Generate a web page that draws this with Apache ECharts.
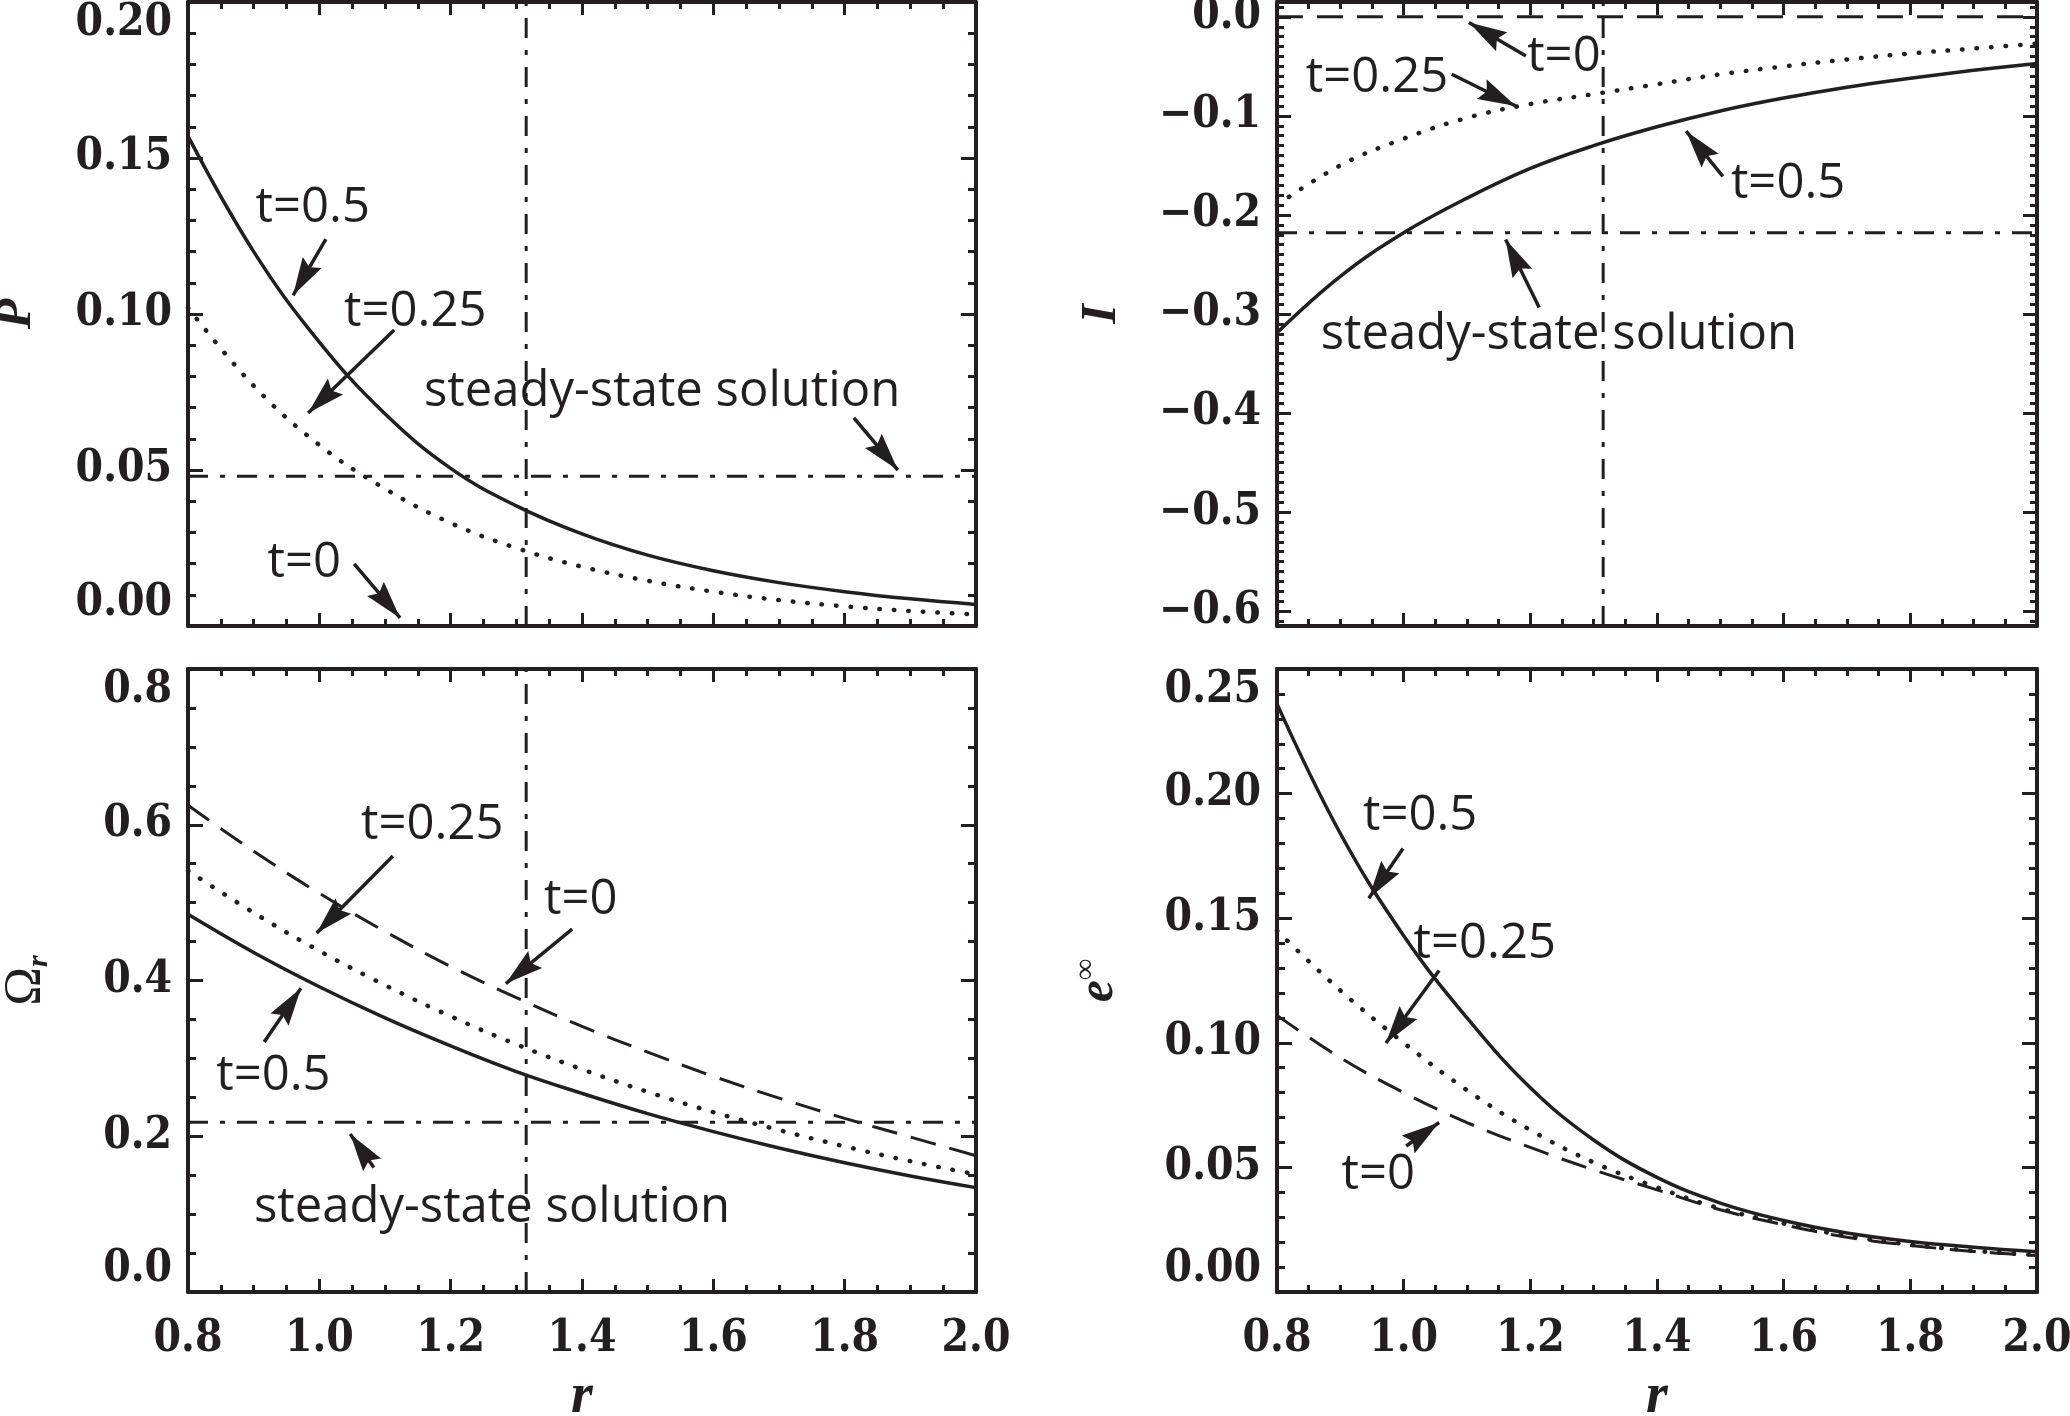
<!DOCTYPE html>
<html>
<head>
<meta charset="utf-8">
<script src="https://cdn.jsdelivr.net/npm/echarts@6/dist/echarts.min.js"></script>
<style>
    html, body {margin: 0; padding: 0; background: #fff;}
    #chart {width: 2070px; height: 1416px;}
</style>
</head>
<body>
<div id="chart"></div>
<script>
// r samples shared by every panel
var rValues = [0.8, 0.9, 1.0, 1.1, 1.2, 1.3, 1.4, 1.5, 1.6, 1.7, 1.8, 1.9, 2.0];
var rMark = 1.315; // vertical dash-dot line

// P
var pT05 = [0.157, 0.120, 0.091, 0.068, 0.0505, 0.0385, 0.0295, 0.0227, 0.0177, 0.0139, 0.011, 0.0087, 0.0069];
var pT025 = [0.102, 0.077, 0.058, 0.044, 0.033, 0.025, 0.019, 0.0145, 0.011, 0.0083, 0.0063, 0.0048, 0.0037];
var pT0 = [0, 0, 0, 0, 0, 0, 0, 0, 0, 0, 0, 0, 0];
var pSteady = 0.048;

// I
var iT05 = [-0.319, -0.262, -0.218, -0.183, -0.153, -0.130, -0.111, -0.095, -0.082, -0.071, -0.062, -0.054, -0.047];
var iT025 = [-0.190, -0.150, -0.123, -0.102, -0.088, -0.078, -0.068, -0.058, -0.050, -0.043, -0.037, -0.032, -0.027];
var iT0 = [0, 0, 0, 0, 0, 0, 0, 0, 0, 0, 0, 0, 0];
var iSteady = -0.218;

// Omega_r
var omT05 = [0.485, 0.436, 0.392, 0.352, 0.316, 0.283, 0.255, 0.229, 0.206, 0.185, 0.166, 0.149, 0.134];
var omT025 = [0.541, 0.487, 0.438, 0.394, 0.354, 0.318, 0.286, 0.257, 0.231, 0.208, 0.187, 0.168, 0.151];
var omT0 = [0.625, 0.566, 0.512, 0.463, 0.418, 0.378, 0.341, 0.308, 0.277, 0.249, 0.223, 0.199, 0.175];
var omSteady = 0.218;

// e_infinity
var eT05 = [0.236, 0.184, 0.143, 0.110, 0.082, 0.061, 0.046, 0.0357, 0.0287, 0.0237, 0.0203, 0.018, 0.0162];
var eT025 = [0.145, 0.121, 0.100, 0.081, 0.065, 0.052, 0.042, 0.0335, 0.0275, 0.0225, 0.019, 0.0165, 0.0148];
var eT0 = [0.111, 0.094, 0.080, 0.068, 0.058, 0.049, 0.041, 0.033, 0.027, 0.022, 0.0187, 0.0163, 0.0146];

// tick labels of the I panel (range does not start on a tick)
var iTicks = [-0.6, -0.5, -0.4, -0.3, -0.2, -0.1, 0.0];

// annotations: [text, r, value] and arrows [r0, v0, r1, v1] (tail -> head)
var pNotes = [['t=0.5', 0.99, 0.134], ['t=0.25', 1.146, 0.1006], ['t=0', 0.977, 0.0202], ['steady-state solution', 1.522, 0.075]];
var pArrows = [[1.01, 0.124, 0.96, 0.106], [1.114, 0.0949, 0.983, 0.0683], [1.053, 0.0199, 1.123, 0.0026], [1.814, 0.0667, 1.881, 0.050]];
var iNotes = [['t=0', 1.253, -0.0406], ['t=0.25', 0.958, -0.0619], ['t=0.5', 1.607, -0.169], ['steady-state solution', 1.245, -0.321]];
var iArrows = [[1.193, -0.0396, 1.103, -0.0058], [1.076, -0.058, 1.177, -0.090], [1.504, -0.161, 1.446, -0.1154], [1.214, -0.2934, 1.161, -0.2247]];
var omNotes = [['t=0.25', 1.172, 0.599], ['t=0', 1.398, 0.503], ['t=0.5', 0.93, 0.277], ['steady-state solution', 1.263, 0.108]];
var omArrows = [[1.112, 0.56, 0.996, 0.461], [1.385, 0.466, 1.284, 0.396], [0.916, 0.321, 0.972, 0.390], [1.083, 0.16, 1.047, 0.203]];
var eNotes = [['t=0.5', 1.026, 0.191], ['t=0.25', 1.128, 0.1396], ['t=0', 0.96, 0.047]];
var eArrows = [[0.999, 0.178, 0.945, 0.158], [1.056, 0.129, 0.972, 0.0999], [1.004, 0.0586, 1.056, 0.068]];

var ink = '#231f20';
var tickFont = "'DejaVu Serif Condensed', 'DejaVu Serif', serif";
var textFont = "'Open Sans', 'Noto Sans', sans-serif";
var nameFont = "'Liberation Serif', 'DejaVu Serif', serif";
// narrow filled head, tip pointing up in symbol space
var arrowHead = 'path://M6,0 L12,34 L6,29 L0,34 Z';

var solid = function () { return {color: ink, width: 3.5, type: 'solid'}; };
var dotted = function () { return {color: ink, width: 4.5, type: [0.5, 14], cap: 'round'}; };
var dashed = function () { return {color: ink, width: 3, type: [26, 14]}; };
var dashDot = function () { return {color: ink, width: 3, type: [20, 12, 5, 12]}; };

var grids = [
    {left: 188, top: 2, width: 788, height: 624},
    {left: 1277, top: 2, width: 760, height: 624},
    {left: 188, top: 669, width: 788, height: 623},
    {left: 1277, top: 669, width: 760, height: 623}
];

function tickLabel(fmt, extra) {
    var o = {
        show: true, margin: 16, fontSize: 44, fontWeight: 'bold', fontFamily: tickFont, color: ink,
        showMinLabel: true, showMaxLabel: true, formatter: fmt
    };
    for (var k in extra) o[k] = extra[k];
    return o;
}

function xAxisPair(gi, withLabels) {
    var make = function (pos) {
        var ax = {
            type: 'value', gridIndex: gi, position: pos, min: 0.8, max: 2.0, interval: 0.2,
            splitLine: {show: false},
            axisLine: {show: true, onZero: false, lineStyle: {color: ink, width: 4}},
            axisTick: {show: true, inside: true, length: 13, lineStyle: {color: ink, width: 3}},
            minorTick: {show: true, splitNumber: 4, length: 7, lineStyle: {color: ink, width: 3}},
            axisLabel: {show: false}
        };
        if (pos === 'bottom' && withLabels) {
            ax.axisLabel = tickLabel(function (v) { return v.toFixed(1); }, {margin: 26});
            ax.name = 'r';
            ax.nameLocation = 'middle';
            ax.nameGap = 78;
            ax.nameTextStyle = {fontFamily: nameFont, fontStyle: 'italic', fontWeight: 'bold', fontSize: 56, color: ink};
        }
        return ax;
    };
    return [make('bottom'), make('top')];
}

function yAxisPair(gi, min, max, interval, split, digits, name) {
    var make = function (pos) {
        var ax = {
            type: 'value', gridIndex: gi, position: pos, min: min, max: max, interval: interval,
            splitLine: {show: false},
            axisLine: {show: true, onZero: false, lineStyle: {color: ink, width: 4}},
            axisTick: {show: true, inside: true, length: 15, lineStyle: {color: ink, width: 3}},
            minorTick: {show: true, splitNumber: split, length: 8, lineStyle: {color: ink, width: 3}},
            axisLabel: {show: false}
        };
        if (pos === 'left') {
            ax.axisLabel = tickLabel(function (v) { return v.toFixed(digits); },
                {verticalAlignMinLabel: 'bottom', verticalAlignMaxLabel: 'top'});
            ax.name = name.text;
            ax.nameLocation = 'middle';
            ax.nameRotate = 90;
            ax.nameGap = name.gap;
            ax.nameTextStyle = name.style;
        }
        return ax;
    };
    return [make('left'), make('right')];
}

// I panel: axis range is off-tick, so ticks are listed explicitly
var iMin = -0.615, iMax = 0.015;
var iMinor = [];
for (var m = -61; m <= 1; m++) {
    if (m % 10 !== 0) iMinor.push(m / 100);
}
function iAxis(pos, major) {
    var ax = {
        type: 'value', gridIndex: 1, position: pos, offset: 0, min: iMin, max: iMax,
        splitLine: {show: false},
        axisLine: {show: major, onZero: false, lineStyle: {color: ink, width: 4}},
        axisTick: {show: true, inside: true, length: major ? 14 : 7,
            customValues: major ? iTicks : iMinor, lineStyle: {color: ink, width: 3}},
        minorTick: {show: false},
        axisLabel: {show: false}
    };
    if (major && pos === 'left') {
        ax.axisLabel = tickLabel(function (v) {
            return (v < -1e-9 ? '\u2212' : '') + Math.abs(v).toFixed(1);
        }, {customValues: iTicks});
        ax.name = 'I';
        ax.nameLocation = 'middle';
        ax.nameRotate = 90;
        ax.nameGap = 150;
        ax.nameTextStyle = {fontFamily: nameFont, fontStyle: 'italic', fontWeight: 'bold', fontSize: 50, color: ink};
    }
    return ax;
}

var xAxes = [].concat(xAxisPair(0, false), xAxisPair(1, false), xAxisPair(2, true), xAxisPair(3, true));
var yAxes = [].concat(
    yAxisPair(0, 0, 0.2, 0.05, 5, 2, {text: 'P', gap: 146,
        style: {fontFamily: nameFont, fontStyle: 'italic', fontWeight: 'bold', fontSize: 50, color: ink}}),
    [iAxis('left', true), iAxis('right', true), iAxis('left', false), iAxis('right', false)],
    yAxisPair(2, 0, 0.8, 0.2, 4, 1, {text: '{a|\u03a9}{b|r}', gap: 134,
        style: {color: ink, rich: {
            a: {fontFamily: nameFont, fontSize: 52, color: ink, lineHeight: 56},
            b: {fontFamily: nameFont, fontStyle: 'italic', fontWeight: 'bold', fontSize: 30, color: ink, verticalAlign: 'bottom', lineHeight: 56}
        }}}),
    yAxisPair(3, 0, 0.25, 0.05, 5, 2, {text: '{a|e}{b|\u221e}', gap: 150,
        style: {color: ink, rich: {
            a: {fontFamily: nameFont, fontStyle: 'italic', fontWeight: 'bold', fontSize: 50, color: ink, lineHeight: 56},
            b: {fontFamily: nameFont, fontWeight: 'bold', fontSize: 30, color: ink, verticalAlign: 'top', lineHeight: 56}
        }}})
);

function curve(xi, yi, ys, style, arrows) {
    var s = {
        type: 'line', xAxisIndex: xi, yAxisIndex: yi, color: ink,
        data: rValues.map(function (r, i) { return [r, ys[i]]; }),
        showSymbol: false, symbol: 'none', smooth: 0.4,
        lineStyle: style, silent: true, z: 3
    };
    if (arrows) s.markLine = arrowMarks(arrows);
    return s;
}

function flat(xi, yi, v, arrows) {
    var s = {
        type: 'line', xAxisIndex: xi, yAxisIndex: yi, color: ink,
        data: [[0.8, v], [2.0, v]], showSymbol: false, symbol: 'none',
        lineStyle: dashDot(), silent: true, z: 3
    };
    if (arrows) s.markLine = arrowMarks(arrows);
    return s;
}

function vertical(xi, yi, lo, hi) {
    return {
        type: 'line', xAxisIndex: xi, yAxisIndex: yi, color: ink,
        data: [[rMark, lo], [rMark, hi]], showSymbol: false, symbol: 'none',
        lineStyle: dashDot(), silent: true, z: 3
    };
}

function arrowMarks(arrows) {
    return {
        silent: true, animation: false, symbol: ['none', arrowHead], symbolSize: [22, 38],
        symbolOffset: [[0, 0], [0, 19]],
        label: {show: false}, emphasis: {disabled: true},
        lineStyle: {color: ink, width: 3.5, type: 'solid', opacity: 1},
        itemStyle: {color: ink, opacity: 1},
        data: arrows.map(function (a) { return [{coord: [a[0], a[1]]}, {coord: [a[2], a[3]]}]; })
    };
}

function notes(xi, yi, list) {
    return {
        type: 'scatter', xAxisIndex: xi, yAxisIndex: yi, symbolSize: 0, silent: true, z: 5,
        itemStyle: {color: ink, opacity: 1},
        label: {show: true, position: 'inside', formatter: '{b}', fontFamily: textFont,
            fontSize: 49, color: ink, opacity: 1, textBorderWidth: 0},
        data: list.map(function (n) { return {name: n[0], value: [n[1], n[2]]}; })
    };
}

var option = {
    animation: false,
    backgroundColor: '#ffffff',
    grid: grids.map(function (g) {
        return {left: g.left, top: g.top, width: g.width, height: g.height, containLabel: false, outerBoundsMode: 'none'};
    }),
    xAxis: xAxes,
    yAxis: yAxes,
    series: [
        // P panel
        curve(0, 0, pT05, solid()),
        curve(0, 0, pT025, dotted()),
        curve(0, 0, pT0, dashed()),
        flat(0, 0, pSteady, pArrows),
        vertical(0, 0, 0, 0.2),
        notes(0, 0, pNotes),
        // I panel
        curve(2, 2, iT05, solid()),
        curve(2, 2, iT025, dotted()),
        curve(2, 2, iT0, dashed()),
        flat(2, 2, iSteady, iArrows),
        vertical(2, 2, iMin, iMax),
        notes(2, 2, iNotes),
        // Omega panel
        curve(4, 6, omT05, solid()),
        curve(4, 6, omT025, dotted()),
        curve(4, 6, omT0, dashed()),
        flat(4, 6, omSteady, omArrows),
        vertical(4, 6, 0, 0.8),
        notes(4, 6, omNotes),
        // e panel
        curve(6, 8, eT05, solid(), eArrows),
        curve(6, 8, eT025, dotted()),
        curve(6, 8, eT0, dashed()),
        notes(6, 8, eNotes)
    ]
};

var chart = echarts.init(document.getElementById('chart'), null, {renderer: 'canvas'});
chart.setOption(option);
</script>
</body>
</html>
